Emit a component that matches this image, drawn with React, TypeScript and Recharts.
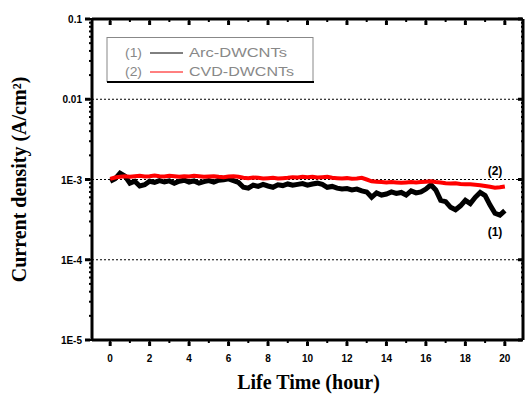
import React from "react";
import { LineChart, Line, XAxis, YAxis, ReferenceLine, ReferenceDot } from "recharts";

const hours = [
  0, 0.25, 0.5, 0.75, 1, 1.25, 1.5, 1.75, 2, 2.25, 2.5, 2.75, 3, 3.25, 3.5, 3.75,
  4, 4.25, 4.5, 4.75, 5, 5.25, 5.5, 5.75, 6, 6.25, 6.5, 6.75, 7, 7.25, 7.5, 7.75,
  8, 8.25, 8.5, 8.75, 9, 9.25, 9.5, 9.75, 10, 10.25, 10.5, 10.75, 11, 11.25, 11.5, 11.75,
  12, 12.25, 12.5, 12.75, 13, 13.25, 13.5, 13.75, 14, 14.25, 14.5, 14.75, 15, 15.25, 15.5, 15.75,
  16, 16.25, 16.5, 16.75, 17, 17.25, 17.5, 17.75, 18, 18.25, 18.5, 18.75, 19, 19.25, 19.5, 19.75, 20,
];

// (1) Arc-DWCNTs, in units of 1e-3 A/cm2
const arcValues = [
  0.95, 1.02, 1.2, 1.1, 0.9, 0.95, 0.83, 0.86, 0.95, 0.92, 0.97, 0.93, 0.96, 0.9, 0.95, 0.98,
  0.93, 0.96, 0.9, 0.94, 0.97, 0.93, 0.98, 0.99, 1.02, 0.97, 0.92, 0.8, 0.78, 0.85, 0.82, 0.87,
  0.83, 0.8, 0.86, 0.84, 0.88, 0.85, 0.87, 0.89, 0.85, 0.88, 0.9, 0.87, 0.8, 0.82, 0.78, 0.76,
  0.77, 0.74, 0.76, 0.72, 0.7, 0.6, 0.68, 0.64, 0.66, 0.7, 0.67, 0.69, 0.64, 0.72, 0.68, 0.7,
  0.76, 0.86, 0.74, 0.55, 0.53, 0.45, 0.42, 0.47, 0.55, 0.5, 0.6, 0.69, 0.63, 0.48, 0.38, 0.36, 0.41,
];

// (2) CVD-DWCNTs, in units of 1e-3 A/cm2
const cvdValues = [
  1.02, 1.06, 1.08, 1.1, 1.08, 1.1, 1.11, 1.09, 1.1, 1.12, 1.1, 1.09, 1.11, 1.1, 1.08, 1.1,
  1.09, 1.11, 1.1, 1.08, 1.09, 1.1, 1.08, 1.07, 1.09, 1.1, 1.08, 1.05, 1.04, 1.06, 1.05, 1.03,
  1.04, 1.05, 1.03, 1.04, 1.05, 1.07, 1.06, 1.08, 1.07, 1.08, 1.06, 1.07, 1.08, 1.05, 1.04, 1.03,
  1.04, 1.02, 1.03, 1.05, 1.0, 0.95, 0.94, 0.93, 0.92, 0.93, 0.92, 0.91, 0.92, 0.93, 0.92, 0.93,
  0.94, 0.95, 0.93, 0.92, 0.9, 0.89, 0.9, 0.88, 0.87, 0.87, 0.86, 0.85, 0.83, 0.81, 0.79, 0.8, 0.82,
];

const xTicks = [0, 1, 2, 3, 4, 5, 6, 7, 8, 9, 10, 11, 12, 13, 14, 15, 16, 17, 18, 19, 20];
const yMajor = [1e-5, 1e-4, 1e-3, 1e-2, 1e-1];
const yMinorFactors = [2, 3, 4, 5, 6, 7, 8, 9];
const yTickLabels: Record<string, string> = {
  "0.00001": "1E-5",
  "0.0001": "1E-4",
  "0.001": "1E-3",
  "0.01": "0.01",
  "0.1": "0.1",
};
const gridValues = [1e-4, 1e-3, 1e-2];

const yTicks: number[] = [];
yMajor.forEach((m, i) => {
  yTicks.push(m);
  if (i < yMajor.length - 1) yMinorFactors.forEach((f) => yTicks.push(m * f));
});

const data = hours.map((h, i) => ({
  h,
  arc: arcValues[i] * 1e-3,
  cvd: cvdValues[i] * 1e-3,
}));

const isMajor = (v: number) => {
  const l = Math.log10(v);
  return Math.abs(l - Math.round(l)) < 1e-6;
};

const labelFont = "'Liberation Sans', Arial, sans-serif";
const titleFont = "'Liberation Serif', 'Times New Roman', serif";
const TS = 3; // minor tick length (drawn by recharts)

const BottomTick = (props: any) => {
  const { x, y, payload } = props;
  const v = payload.value;
  const even = v % 2 === 0;
  return (
    <g>
      {even && <line x1={x} x2={x} y1={y - 1} y2={y + 3} stroke="#000" strokeWidth={3} />}
      {even && (
        <text x={x} y={y + 19} textAnchor="middle" fontFamily={labelFont} fontWeight="bold" fontSize={10} fill="#000">
          {v}
        </text>
      )}
    </g>
  );
};

const TopTick = (props: any) => {
  const { x, y, payload } = props;
  const even = payload.value % 2 === 0;
  return <g>{even && <line x1={x} x2={x} y1={y - 1} y2={y + 3} stroke="#000" strokeWidth={3} />}</g>;
};

const LeftTick = (props: any) => {
  const { x, y, payload } = props;
  const v = payload.value;
  const major = isMajor(v);
  const key = String(Number(v.toPrecision(6)));
  return (
    <g>
      {major && <line x1={x - 4} x2={x + 1} y1={y} y2={y} stroke="#000" strokeWidth={3} />}
      {major && (
        <text x={x - 7} y={y + 4} textAnchor="end" fontFamily={labelFont} fontWeight="bold" fontSize={10} fill="#000">
          {yTickLabels[key]}
        </text>
      )}
    </g>
  );
};

const RightTick = (props: any) => {
  const { x, y, payload } = props;
  const major = isMajor(payload.value);
  return <g>{major && <line x1={x + 1} x2={x - 3} y1={y} y2={y} stroke="#000" strokeWidth={3} />}</g>;
};

const axisStroke = { stroke: "#000", strokeWidth: 3 };
const tickStroke = { stroke: "#000", strokeWidth: 2 };

export default function App() {
  return (
    <div style={{ position: "absolute", left: 0, top: 0, width: 525, height: 394, background: "#fff" }}>
      <LineChart width={525} height={394} data={data} margin={{ top: 19, right: 2, bottom: 0, left: 0 }}>
        <XAxis
          dataKey="h"
          type="number"
          domain={[-0.92, 20.92]}
          ticks={xTicks}
          interval={0}
          allowDataOverflow
          height={54}
          tickSize={TS}
          tickMargin={0}
          tickLine={tickStroke}
          axisLine={axisStroke}
          tick={<BottomTick />}
        />
        <XAxis
          xAxisId="top"
          orientation="top"
          mirror
          dataKey="h"
          type="number"
          domain={[-0.92, 20.92]}
          ticks={xTicks}
          interval={0}
          allowDataOverflow
          height={1}
          tickSize={TS}
          tickMargin={0}
          tickLine={tickStroke}
          axisLine={axisStroke}
          tick={<TopTick />}
        />
        <YAxis
          type="number"
          scale="log"
          domain={[1e-5, 0.1]}
          ticks={yTicks}
          interval={0}
          allowDataOverflow
          width={92}
          tickSize={TS}
          tickMargin={0}
          tickLine={tickStroke}
          axisLine={axisStroke}
          tick={<LeftTick />}
          label={{
            value: "Current density (A/cm²)",
            angle: -90,
            position: "insideLeft",
            offset: 0,
            dx: 19,
            style: { fontFamily: titleFont, fontWeight: "bold", fontSize: 20, fill: "#000", textAnchor: "middle" },
          }}
        />
        <YAxis
          yAxisId="right"
          orientation="right"
          mirror
          type="number"
          scale="log"
          domain={[1e-5, 0.1]}
          ticks={yTicks}
          interval={0}
          allowDataOverflow
          width={1}
          tickSize={2}
          tickMargin={0}
          tickLine={tickStroke}
          axisLine={axisStroke}
          tick={<RightTick />}
        />
        {gridValues.map((g) => (
          <ReferenceLine key={g} y={g} stroke="#000" strokeWidth={1} strokeDasharray="2 2" />
        ))}
        <Line
          xAxisId="top"
          yAxisId="right"
          dataKey="cvd"
          stroke="none"
          strokeWidth={0}
          dot={false}
          activeDot={false}
          legendType="none"
          isAnimationActive={false}
        />
        <Line dataKey="arc" stroke="#000" strokeWidth={5} dot={false} isAnimationActive={false} />
        <Line dataKey="cvd" stroke="#ff0000" strokeWidth={4} dot={false} isAnimationActive={false} />
        <ReferenceDot
          x={19.5}
          y={1.27e-3}
          r={0}
          fill="none"
          stroke="none"
          label={{ value: "(2)", position: "center", style: { fontFamily: labelFont, fontWeight: "bold", fontSize: 12, fill: "#000" } }}
        />
        <ReferenceDot
          x={19.5}
          y={2.25e-4}
          r={0}
          fill="none"
          stroke="none"
          label={{ value: "(1)", position: "center", style: { fontFamily: labelFont, fontWeight: "bold", fontSize: 12, fill: "#000" } }}
        />
      </LineChart>
      <div
        style={{
          position: "absolute",
          left: 0,
          top: 371,
          width: 525,
          paddingLeft: 92,
          boxSizing: "border-box",
          textAlign: "center",
          fontFamily: titleFont,
          fontWeight: "bold",
          fontSize: 20,
          color: "#000",
        }}
      >
        Life Time (hour)
      </div>
      <svg style={{ position: "absolute", left: 0, top: 0 }} width={525} height={394} pointerEvents="none">
        <rect x={107} y={37.5} width={206} height={44} fill="#fff" stroke="#888" strokeWidth={1} />
        <line x1={107} x2={314} y1={82} y2={82} stroke="#000" strokeWidth={2} />
        <text x={125} y={57} fontFamily={labelFont} fontSize={12} fill="#888" textLength={17} lengthAdjust="spacingAndGlyphs">(1)</text>
        <line x1={150} x2={183} y1={53} y2={53} stroke="#000" strokeWidth={1} />
        <text x={189} y={57} fontFamily={labelFont} fontSize={12} fill="#888" textLength={98} lengthAdjust="spacingAndGlyphs">Arc-DWCNTs</text>
        <text x={125} y={76} fontFamily={labelFont} fontSize={12} fill="#888" textLength={17} lengthAdjust="spacingAndGlyphs">(2)</text>
        <line x1={150} x2={183} y1={72} y2={72} stroke="#ff0000" strokeWidth={1} />
        <text x={189} y={76} fontFamily={labelFont} fontSize={12} fill="#888" textLength={105} lengthAdjust="spacingAndGlyphs">CVD-DWCNTs</text>
      </svg>
    </div>
  );
}
